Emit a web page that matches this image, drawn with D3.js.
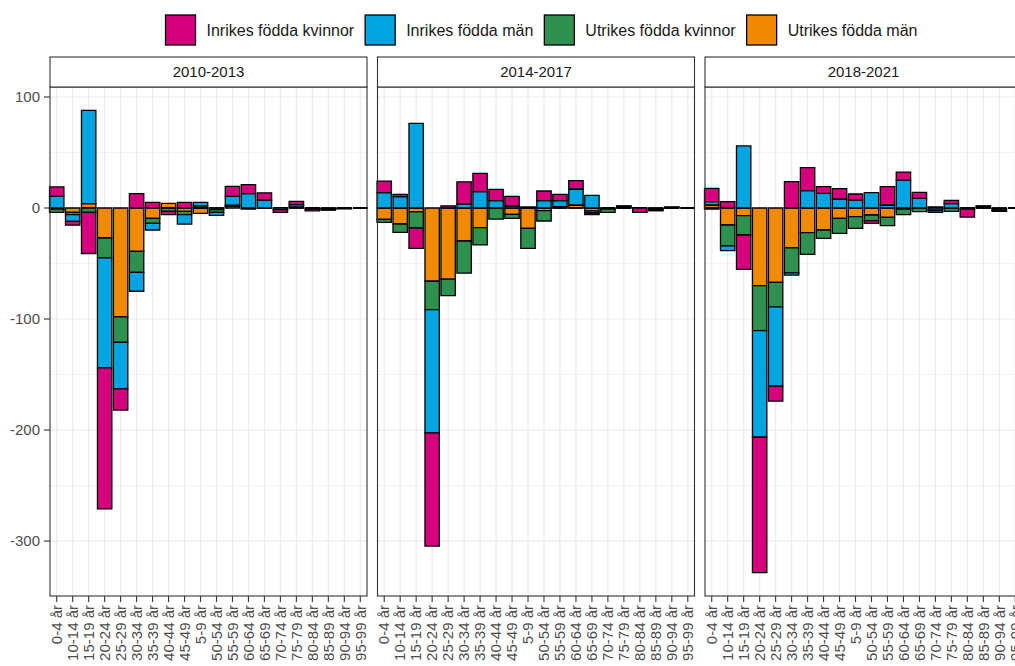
<!DOCTYPE html>
<html>
<head>
<meta charset="utf-8">
<script src="https://cdn.jsdelivr.net/npm/d3@7"></script>
<style>
  body { margin: 0; background: #fff; }
  svg { display: block; font-family: "Liberation Sans", Arial, sans-serif; }
</style>
</head>
<body>
<div id="chart"></div>
<script>
// age groups in the (alphabetical) order of the original
const ageGroups = ["0-4 år", "10-14 år", "15-19 år", "20-24 år", "25-29 år", "30-34 år",
  "35-39 år", "40-44 år", "45-49 år", "5-9 år", "50-54 år", "55-59 år", "60-64 år",
  "65-69 år", "70-74 år", "75-79 år", "80-84 år", "85-89 år", "90-94 år", "95-99 år"];

const periods = ["2010-2013", "2014-2017", "2018-2021"];

const seriesNames = ["Inrikes födda kvinnor", "Inrikes födda män", "Utrikes födda kvinnor", "Utrikes födda män"];
const seriesColors = ["#d6007f", "#00a5e1", "#2e9150", "#f18a00"];

// one array per series, one row per period
const inrikesKvinnor = [
  [8.5, -3.5, -37, -127, -19, 13, 5, -3, 5, 0, 0, 9, 8, 6.5, -2.5, 3, -1.5, -1, 0, 0],
  [10.5, 2, -18.3, -102, 2, 20, 16.5, 10.2, 8.7, 0, 8.7, 5.7, 7.5, -1.5, 0, 0, -4, -1, 0, 0],
  [12, 5.7, -31, -122, -13.5, 23.7, 20.7, 6, 9.3, 5.4, -2.4, 16.5, 7.2, 5.4, -2, 3, -7.2, 0, 0, 0]
];
const inrikesMan = [
  [10.5, -6, 84, -99, -42, -17, -6, 0, -8.5, 3, -2.7, 8, 13, 7.2, -1.5, 2, -1, 0, -0.5, 0],
  [13.8, 10.2, 76.3, -111, 0, 3.6, 14.7, 6.6, 1.8, 1, 6.6, 5.4, 14.4, 11.4, 0, 1, 0, 0, 0.5, 0],
  [3, -4.2, 55.9, -96, -71.5, -2, 15.6, 13.2, 8.1, 7.2, 13.8, 2.7, 25.2, 8.7, -2, 3.9, 0, 1, -1, 0]
];
const utrikesKvinnor = [
  [-3, -2, -4, -18, -23, -19, -4.5, -3, -3, 2, -2.5, 1, -1, 0, 0, 0, 0, -0.5, 0, 0],
  [-2.7, -7.5, -14.5, -25.5, -15, -29, -15.6, -10, -3.6, -18, -9.3, 1.2, 0, -2, -3, 1, 0, -1, 0, 0],
  [-1, -18.9, -17.4, -40.5, -22, -22.5, -19.5, -7.5, -13.5, -10.5, -5.1, -7.5, -5, -3.3, 1, -3, 0, 1, -1.5, 0]
];
const utrikesMan = [
  [-1, -4, 4, -27, -98, -39, -9.3, 4.2, -3, -4.8, -1.5, 1.5, 0, 0, 0, 1, 0, -0.5, -0.3, 0],
  [-10.2, -14.4, -3.5, -66, -64, -29.7, -17.7, 0, -5.7, -18.3, -2.4, 0, 2.7, -2.5, -1, 0, 0, -0.5, 0.5, 0],
  [2.7, -15.3, -6.9, -70, -67, -36, -22.2, -19.8, -9.3, -7.8, -6.3, -8.4, -1, 0, 0, 0, -1, 0, -0.5, 0]
];

const yTicks = [100, 0, -100, -200, -300];
const yMinorTicks = [50, -50, -150, -250];

const width = 1015, height = 666;
const panelTop = 87, panelBottom = 596;
const panelW = 317, panelStep = 327.5, firstPanel = 50;
const stripH = 30;

const svg = d3.select("#chart").append("svg")
  .attr("width", width)
  .attr("height", height);

const values = [inrikesKvinnor, inrikesMan, utrikesKvinnor, utrikesMan];
// ggplot stacks the first level farthest from zero, so stack in reverse
const stackKeys = [3, 2, 1, 0];

const x = d3.scalePoint().domain(ageGroups).range([0, panelW]).padding(0.42);
const barW = x.step() * 0.9;
const y = d3.scaleLinear().domain([-349.5, 109]).range([panelBottom, panelTop]);

periods.forEach((period, p) => {
  const rows = ageGroups.map((age, i) => {
    const r = { age };
    values.forEach((s, k) => { r[k] = s[p][i]; });
    return r;
  });
  const stacked = d3.stack().keys(stackKeys).offset(d3.stackOffsetDiverging)(rows);

  const g = svg.append("g").attr("transform", `translate(${firstPanel + p * panelStep},0)`);

  // grid
  g.append("g").selectAll("line.minor").data(yMinorTicks).join("line")
    .attr("x1", 0).attr("x2", panelW)
    .attr("y1", d => y(d)).attr("y2", d => y(d))
    .attr("stroke", "#ebebeb").attr("stroke-width", 0.6);
  g.append("g").selectAll("line.major").data(yTicks).join("line")
    .attr("x1", 0).attr("x2", panelW)
    .attr("y1", d => y(d)).attr("y2", d => y(d))
    .attr("stroke", "#ebebeb").attr("stroke-width", 1.2);
  g.append("g").selectAll("line.vgrid").data(ageGroups).join("line")
    .attr("x1", d => x(d)).attr("x2", d => x(d))
    .attr("y1", panelTop).attr("y2", panelBottom)
    .attr("stroke", "#ebebeb").attr("stroke-width", 1.2);

  // bars
  g.append("g").selectAll("g").data(stacked).join("g")
    .attr("fill", d => seriesColors[d.key])
    .selectAll("path").data(d => d).join("path")
      .attr("d", d => {
        const x0 = x(d.data.age) - barW / 2, x1 = x0 + barW;
        return `M${x0},${y(d[1])}H${x1}V${y(d[0])}H${x0}Z`;
      })
      .attr("stroke", "#000")
      .attr("stroke-width", 1.3);

  // panel border
  g.append("rect")
    .attr("x", 0).attr("y", panelTop)
    .attr("width", panelW).attr("height", panelBottom - panelTop)
    .attr("fill", "none").attr("stroke", "#333").attr("stroke-width", 1.1);

  // strip
  g.append("rect")
    .attr("x", 0).attr("y", panelTop - stripH)
    .attr("width", panelW).attr("height", stripH)
    .attr("fill", "#fff").attr("stroke", "#333").attr("stroke-width", 1.1);
  g.append("text")
    .attr("x", panelW / 2).attr("y", panelTop - stripH / 2)
    .attr("dy", "0.35em")
    .attr("text-anchor", "middle")
    .attr("font-size", "15px")
    .attr("fill", "#1a1a1a")
    .text(period);

  // x axis
  const xAxis = g.append("g").attr("transform", `translate(0,${panelBottom})`);
  xAxis.selectAll("line").data(ageGroups).join("line")
    .attr("x1", d => x(d)).attr("x2", d => x(d))
    .attr("y1", 0).attr("y2", 6)
    .attr("stroke", "#333").attr("stroke-width", 1.1);
  xAxis.selectAll("text").data(ageGroups).join("text")
    .attr("transform", d => `translate(${x(d)},9) rotate(-90)`)
    .attr("dy", "0.35em")
    .attr("text-anchor", "end")
    .attr("font-size", "15px")
    .attr("fill", "#4d4d4d")
    .text(d => d);
});

// y axis on the first panel
const yAxis = svg.append("g").attr("transform", `translate(${firstPanel},0)`);
yAxis.selectAll("line").data(yTicks).join("line")
  .attr("x1", -6).attr("x2", 0)
  .attr("y1", d => y(d)).attr("y2", d => y(d))
  .attr("stroke", "#333").attr("stroke-width", 1.1);
yAxis.selectAll("text").data(yTicks).join("text")
  .attr("x", -10).attr("y", d => y(d))
  .attr("dy", "0.35em")
  .attr("text-anchor", "end")
  .attr("font-size", "15px")
  .attr("fill", "#4d4d4d")
  .text(d => d);

// legend at the top
const legend = svg.append("g");
const items = legend.selectAll("g").data(seriesNames).join("g");
items.append("rect")
  .attr("width", 30).attr("height", 30)
  .attr("y", 15)
  .attr("fill", (d, i) => seriesColors[i])
  .attr("stroke", "#000").attr("stroke-width", 1.3);
items.append("text")
  .attr("x", 41).attr("y", 30)
  .attr("dy", "0.35em")
  .attr("font-size", "16px")
  .attr("fill", "#1a1a1a")
  .text(d => d);

let offset = 0;
const widths = [];
items.each(function() {
  const w = 41 + d3.select(this).select("text").node().getComputedTextLength();
  widths.push(w);
});
const gap = 11;
const total = d3.sum(widths) + gap * (widths.length - 1);
offset = 541.5 - total / 2;
items.attr("transform", (d, i) => {
  const t = `translate(${offset},0)`;
  offset += widths[i] + gap;
  return t;
});
</script>
</body>
</html>
